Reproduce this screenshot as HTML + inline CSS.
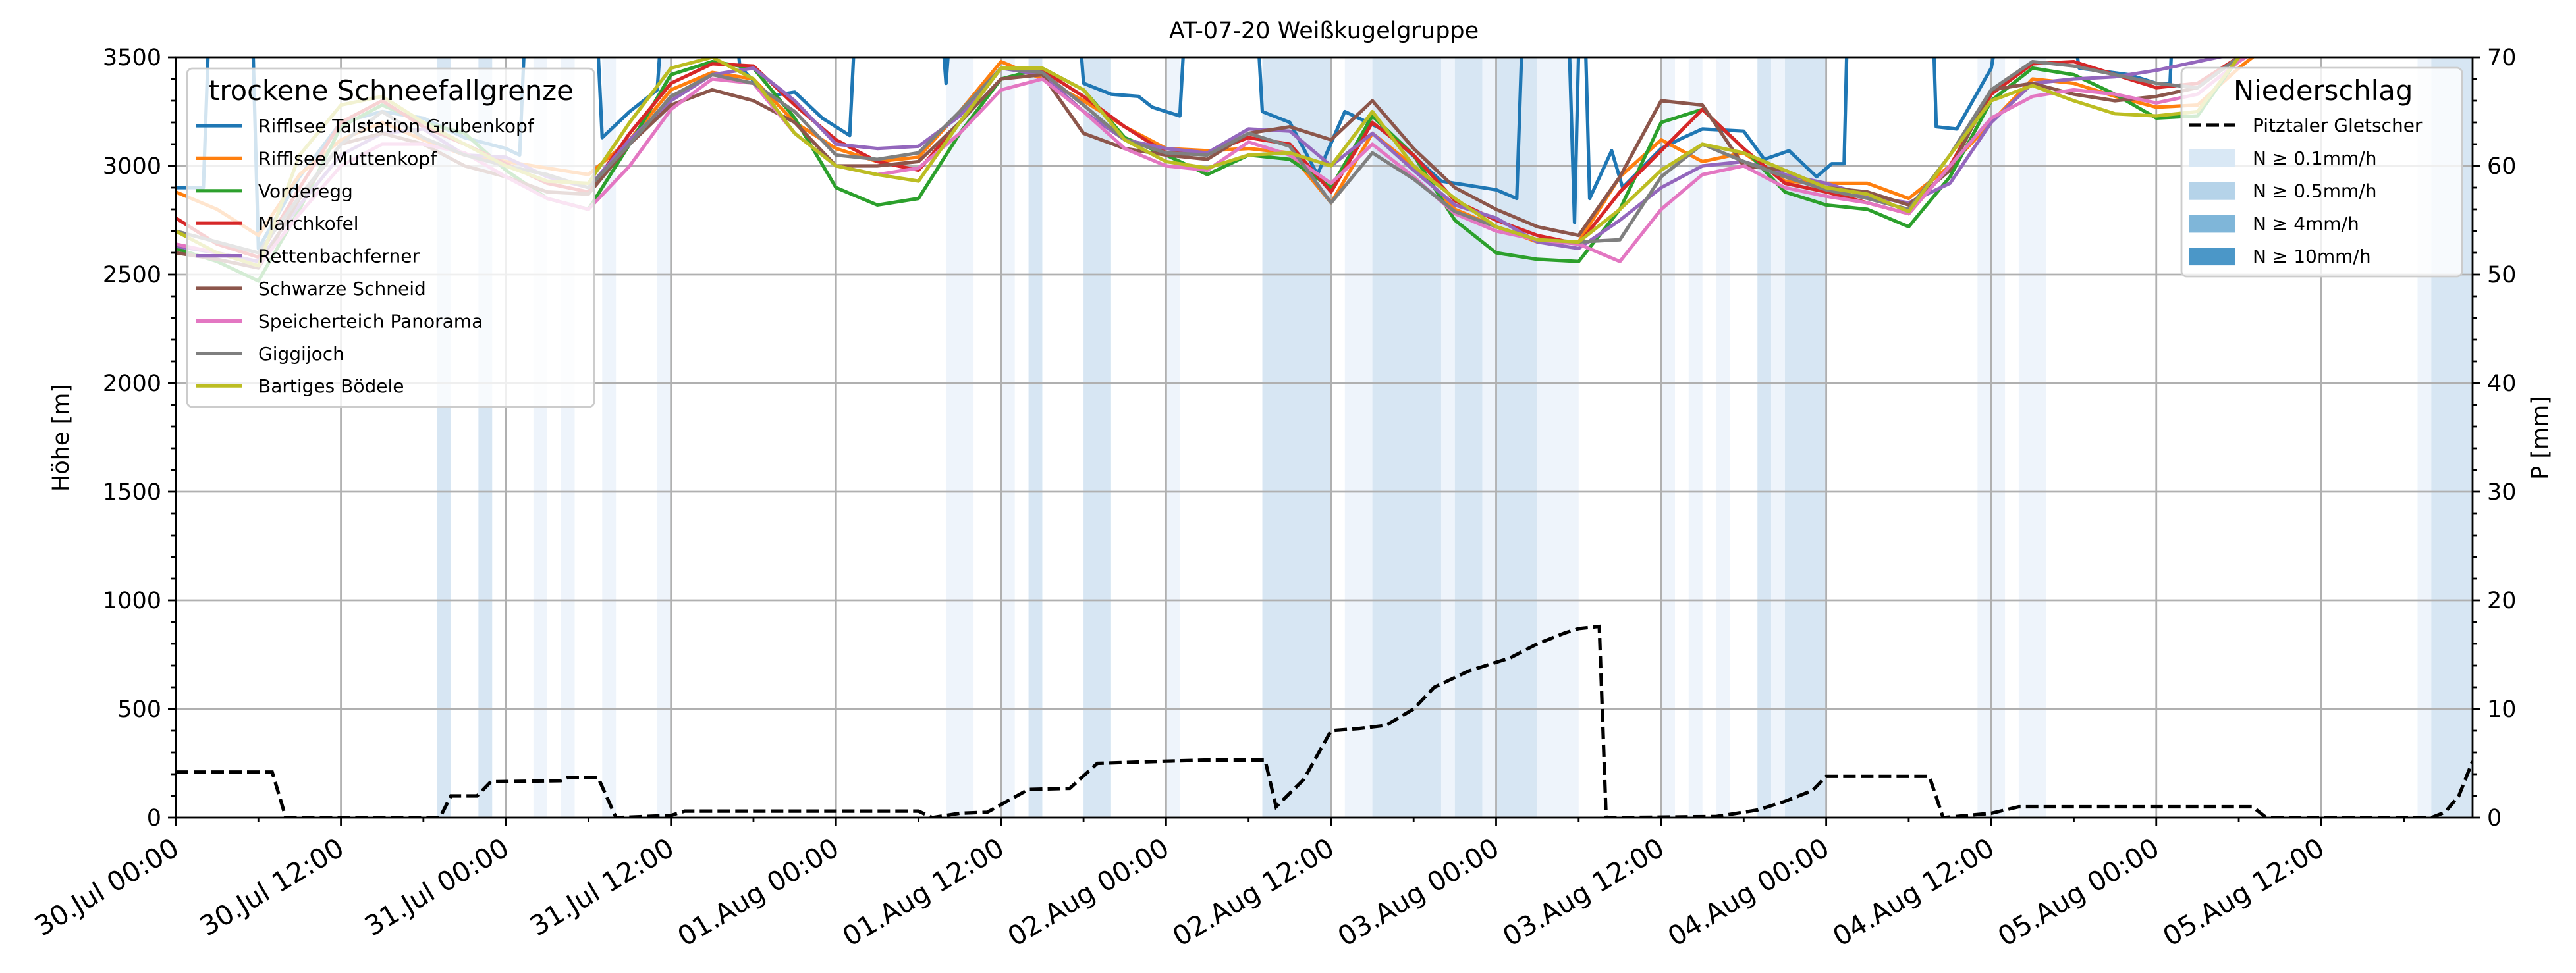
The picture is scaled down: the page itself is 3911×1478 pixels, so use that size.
<!DOCTYPE html>
<html><head><meta charset="utf-8">
<style>
html,body{margin:0;padding:0;background:#fff;}
svg{display:block;font-family:"DejaVu Sans","Liberation Sans",sans-serif;}
</style></head>
<body>
<svg id="chart" width="3911" height="1478" viewBox="0 0 3911 1478" xmlns="http://www.w3.org/2000/svg">
<defs><clipPath id="plotclip"><rect x="267" y="87" width="3487" height="1155"/></clipPath></defs>
<text x="2010" y="58" font-size="35" text-anchor="middle">AT-07-20 Weißkugelgruppe</text>
<text transform="translate(104,665) rotate(-90)" font-size="35" text-anchor="middle">Höhe [m]</text>
<text transform="translate(3868,665) rotate(-90)" font-size="35" text-anchor="middle">P [mm]</text>
<g id="bands" clip-path="url(#plotclip)"></g>
<g id="grid"></g>
<g id="series" clip-path="url(#plotclip)"></g>
<g id="axes"></g>
<g id="legends"></g>
</svg>
<script>
// ---- data ----
const seriesNames = ["Rifflsee Talstation Grubenkopf","Rifflsee Muttenkopf","Vorderegg","Marchkofel","Rettenbachferner","Schwarze Schneid","Speicherteich Panorama","Giggijoch","Bartiges Bödele"];
const seriesColors = ["#1f77b4","#ff7f0e","#2ca02c","#d62728","#9467bd","#8c564b","#e377c2","#7f7f7f","#bcbd22"];
const stepHours = 3;
const blueHours = [0,2,2.5,5.5,6,9,12,15,18,21,24,25,25.5,30.5,31,33,35,35.5,40.5,41,43,45,47,49,49.5,55.5,56,56.5,65.5,66,68,70,71,73,73.5,78.5,79,81,83,85,88,92,96,97.5,98,101.2,101.7,102.1,102.4,102.8,104.4,105.2,108,109.6,111,114,115.5,117.3,119.3,120.4,121.3,121.6,127.7,128,129.5,132,133,137.5,138.4,142,144,145,145.3,167];
const blueValues = [2900,2900,3800,3800,2620,2950,3200,3250,3220,3130,3080,3050,3800,3800,3130,3250,3350,3800,3800,3460,3320,3340,3220,3140,3800,3800,3380,3800,3800,3380,3330,3320,3270,3230,3800,3800,3250,3200,2960,3250,3160,2930,2890,2850,3800,3800,2740,3800,3800,2850,3070,2900,3080,3130,3170,3160,3030,3070,2950,3010,3010,3800,3800,3180,3170,3450,3800,3800,3450,3420,3380,3380,3800,3800];
const orangeValues = [2880,2800,2680,2960,3120,3200,3120,3050,3020,2990,2960,3120,3350,3430,3400,3200,3080,3020,3040,3250,3480,3400,3300,3180,3080,3070,3080,3060,2830,3150,3000,2800,2720,2650,2650,2950,3120,3020,3060,2930,2920,2920,2850,3000,3200,3400,3380,3320,3270,3280,3450,3600,3650,3700,3700,3700];
const greenValues = [2620,2560,2470,2800,3180,3280,3200,3150,2980,2850,2800,3100,3420,3480,3450,3220,2900,2820,2850,3150,3400,3450,3350,3130,3050,2960,3050,3030,2900,3230,3050,2750,2600,2570,2560,2800,3200,3260,3080,2880,2820,2800,2720,2950,3300,3450,3420,3330,3220,3230,3500,3600,3650,3700,3700,3700];
const redValues = [2760,2640,2580,2900,3200,3300,3180,3100,3010,2920,2880,3150,3380,3470,3460,3280,3120,3020,2980,3200,3450,3440,3320,3180,3060,3060,3130,3100,2880,3200,3050,2840,2750,2680,2640,2880,3070,3260,3080,2920,2880,2830,2780,3000,3330,3470,3480,3420,3360,3380,3500,3600,3650,3700,3700,3700];
const purpleValues = [2630,2600,2560,2820,3050,3150,3170,3050,3040,2950,2900,3120,3300,3420,3450,3300,3100,3080,3090,3230,3450,3420,3250,3120,3080,3060,3170,3160,3000,3150,2980,2820,2760,2650,2620,2750,2900,3000,3020,2960,2920,2860,2830,2920,3200,3380,3400,3410,3440,3480,3520,3600,3650,3700,3700,3700];
const brownValues = [2600,2570,2530,2850,3100,3150,3100,3000,2950,2880,2870,3100,3280,3350,3300,3200,3000,3000,3020,3200,3400,3420,3150,3080,3050,3030,3150,3180,3120,3300,3080,2900,2800,2720,2680,2950,3300,3280,3000,2980,2900,2880,2820,2980,3350,3380,3330,3300,3320,3360,3500,3600,3650,3700,3700,3700];
const pinkValues = [2640,2600,2540,2780,3000,3100,3100,3060,2950,2850,2800,3000,3260,3400,3380,3150,3000,2960,2990,3150,3350,3400,3250,3080,3000,2980,3110,3050,2920,3100,2950,2780,2700,2660,2640,2560,2800,2960,3000,2900,2860,2830,2780,3000,3220,3320,3350,3330,3290,3330,3480,3600,3650,3700,3700,3700];
const grayValues = [2700,2650,2600,2860,3100,3250,3130,3050,3000,2960,2900,3100,3320,3420,3380,3250,3050,3030,3060,3250,3450,3430,3280,3120,3060,3050,3150,3090,2830,3060,2940,2790,2720,2660,2650,2660,2950,3100,3020,2950,2890,2850,2800,3050,3350,3480,3460,3420,3380,3360,3500,3600,3650,3700,3700,3700];
const oliveValues = [2700,2600,2540,3050,3280,3320,3200,3100,3000,2930,2920,3200,3450,3500,3400,3150,3000,2960,2930,3200,3450,3450,3350,3120,3020,2990,3050,3060,3000,3250,3000,2850,2720,2660,2650,2800,2980,3100,3060,2980,2900,2870,2790,3050,3300,3370,3300,3240,3230,3250,3500,3600,3650,3700,3700,3700];
const precipHours = [0,7,8,19.2,20,21.9,22.9,28,28.5,30.7,32,36,37,52,54,55,57,59,62,65,67,72,75,79.2,80,82,84,86,88,90,91.5,94,97,99,101,102,103.5,104,112,115,117,119,120,127.5,128.5,132,134,151,152,164,165,166,167];
const precipValues = [4.2,4.2,0,0,2,2,3.3,3.4,3.7,3.7,0,0.2,0.6,0.6,0.6,0,0.4,0.5,2.6,2.7,5,5.2,5.3,5.3,1,3.5,8,8.2,8.5,10,12,13.5,14.7,16,17,17.4,17.6,0,0.1,0.7,1.5,2.5,3.8,3.8,0,0.4,1,1,0,0,0.5,2,5.2];
const bandStart = [19,22,26,28,31,35,56,60,62,66,72,79,85,87,92,93,95,96,99,108,110,112,115,116,117,131,134,163,164];
const bandEnd   = [20,23,27,29,32,36,58,61,63,68,73,84,87,92,93,95,96,99,102,109,111,113,116,117,120,133,136,164,167];
const bandLevel = [1,1,0,0,0,0,0,0,1,1,0,1,0,1,0,1,0,1,0,0,0,0,1,0,1,0,0,0,1];
const xTickLabels = ["30.Jul 00:00","30.Jul 12:00","31.Jul 00:00","31.Jul 12:00","01.Aug 00:00","01.Aug 12:00","02.Aug 00:00","02.Aug 12:00","03.Aug 00:00","03.Aug 12:00","04.Aug 00:00","04.Aug 12:00","05.Aug 00:00","05.Aug 12:00"];
const yTicks = [0,500,1000,1500,2000,2500,3000,3500];
const y2Ticks = [0,10,20,30,40,50,60,70];

const L=267,R=3754,T=87,B=1242,HMAX=167;
const X=h=>L+h*(R-L)/HMAX;
const Y=v=>B-v/3500*(B-T);
const Y2=v=>B-v/70*(B-T);
const NS="http://www.w3.org/2000/svg";
function mk(tag,parent,attrs){const e=document.createElementNS(NS,tag);for(const k in attrs)e.setAttribute(k,attrs[k]);parent.appendChild(e);return e;}
const gB=document.getElementById('bands'),gG=document.getElementById('grid'),gS=document.getElementById('series'),gA=document.getElementById('axes'),gL=document.getElementById('legends');
const bandColors=["#eef4fb","#d7e6f3"];

bandStart.forEach((s,i)=>{
  const r=mk('rect',gB,{x:X(s),y:T,width:X(bandEnd[i])-X(s),height:B-T,fill:bandColors[bandLevel[i]]});
  
  
});
xTickLabels.forEach((t,i)=>{
  const l=mk('line',gG,{x1:X(i*12),x2:X(i*12),y1:T,y2:B,stroke:"#b0b0b0","stroke-width":2.8});
  
  
});
yTicks.forEach(v=>{
  const l=mk('line',gG,{x1:L,x2:R,y1:Y(v),y2:Y(v),stroke:"#b0b0b0","stroke-width":2.8});
  
  
});
const allVals=[null,orangeValues,greenValues,redValues,purpleValues,brownValues,pinkValues,grayValues,oliveValues];
function pathFrom(hs,vs,f){return hs.map((h,i)=>(i?'L':'M')+X(h).toFixed(1)+','+f(vs[i]).toFixed(1)).join('');}
allVals.forEach((vals,k)=>{
  let d;
  if(k===0){d=pathFrom(blueHours,blueValues,Y);}
  else{const hs=vals.map((v,i)=>i*stepHours);d=pathFrom(hs,vals,Y);}
  const p=mk('path',gS,{d:d,fill:"none",stroke:seriesColors[k],"stroke-width":5.2,"stroke-linejoin":"round"});
  
  
});
const pp=mk('path',gS,{d:pathFrom(precipHours,precipValues,Y2),fill:"none",stroke:"#000","stroke-width":5.2,"stroke-dasharray":"19 8"});


const fr=mk('rect',gA,{x:L,y:T,width:R-L,height:B-T,fill:"none",stroke:"#000","stroke-width":2.8});


for(let h=0;h<=HMAX;h+=6){
  const major=h%12===0;
  const t=mk('line',gA,{x1:X(h),x2:X(h),y1:B,y2:B+(major?12:7),stroke:"#000","stroke-width":2.8});
  
  
}
xTickLabels.forEach((s,i)=>{
  const x=X(i*12),y=B+28;
  const t=mk('text',gA,{transform:`translate(${x-8},${y}) rotate(-31)`,"font-size":41,"text-anchor":"end","dominant-baseline":"hanging"});
  t.textContent=s;
  
  
});
for(let v=0;v<=3500;v+=100){
  const major=v%500===0;
  const t=mk('line',gA,{x1:L,x2:L-(major?12:7),y1:Y(v),y2:Y(v),stroke:"#000","stroke-width":2.8});
  
  
}
yTicks.forEach(v=>{
  const t=mk('text',gA,{x:L-22,y:Y(v)+12,"font-size":35,"text-anchor":"end"});
  t.textContent=v;
  
  
});
for(let v=0;v<=70;v+=2){
  const major=v%10===0;
  const t=mk('line',gA,{x1:R,x2:R+(major?12:7),y1:Y2(v),y2:Y2(v),stroke:"#000","stroke-width":2.8});
  
  
}
y2Ticks.forEach(v=>{
  const t=mk('text',gA,{x:R+22,y:Y2(v)+12,"font-size":35});
  t.textContent=v;
  
  
});
const lg1=mk('g',gL,{});


mk('rect',lg1,{x:284,y:104,width:618,height:514,rx:8,fill:"#fff","fill-opacity":0.8,stroke:"#cccccc","stroke-width":2.8});
const lt=mk('text',lg1,{x:317,y:152,"font-size":41.7});
lt.textContent="trockene Schneefallgrenze";


seriesNames.forEach((n,i)=>{
  const y=191+i*49.4;
  mk('line',lg1,{x1:297,x2:367,y1:y,y2:y,stroke:seriesColors[i],"stroke-width":5.2});
  const t=mk('text',lg1,{x:392,y:y+10,"font-size":28});
  t.textContent=n;
  
  
});
const lg2=mk('g',gL,{});


mk('rect',lg2,{x:3312,y:103,width:426,height:317,rx:8,fill:"#fff","fill-opacity":0.8,stroke:"#cccccc","stroke-width":2.8});
const lt2=mk('text',lg2,{x:3391,y:152,"font-size":41.7});
lt2.textContent="Niederschlag";


mk('line',lg2,{x1:3323,x2:3394,y1:190,y2:190,stroke:"#000","stroke-width":5.2,"stroke-dasharray":"19 8"});
const pt=mk('text',lg2,{x:3420,y:200,"font-size":28});
pt.textContent="Pitztaler Gletscher";


const patchLabels=["N ≥ 0.1mm/h","N ≥ 0.5mm/h","N ≥ 4mm/h","N ≥ 10mm/h"];
const patchColors=["#d9e8f5","#b5d3e9","#7fb6d9","#4b97c8"];
patchLabels.forEach((s,i)=>{
  const y=240+i*49.7;
  mk('rect',lg2,{x:3323,y:y-13,width:71,height:27,fill:patchColors[i]});
  const t=mk('text',lg2,{x:3420,y:y+10,"font-size":28});
  t.textContent=s;
  
  
});
</script>
</body></html>
